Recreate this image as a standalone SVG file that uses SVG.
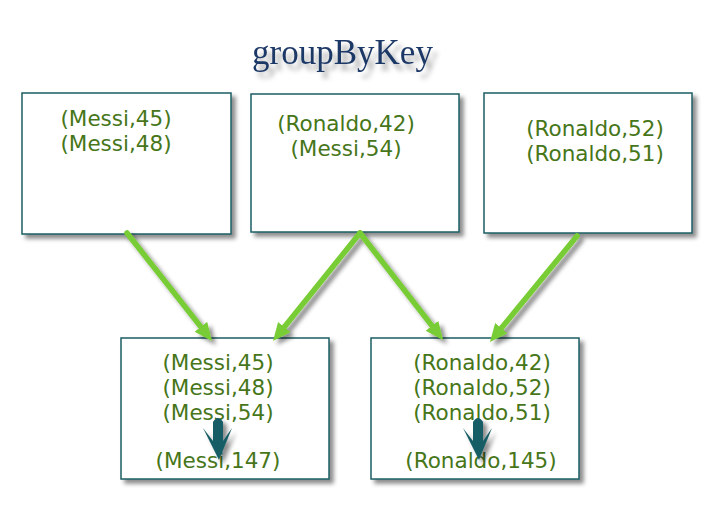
<svg xmlns="http://www.w3.org/2000/svg" width="726" height="528" viewBox="0 0 726 528">
  <defs>
    <filter id="sh" x="-20%" y="-20%" width="150%" height="150%">
      <feDropShadow dx="4" dy="4" stdDeviation="2.2" flood-color="#000" flood-opacity="0.45"/>
    </filter>
    <filter id="tsh" x="-20%" y="-30%" width="150%" height="180%">
      <feDropShadow dx="5" dy="6" stdDeviation="2.5" flood-color="#000" flood-opacity="0.35"/>
    </filter>
    <marker id="ah" markerUnits="userSpaceOnUse" markerWidth="20" markerHeight="18" refX="8" refY="8" orient="auto">
      <path d="M0,0 L18,8 L0,16 z" fill="#78cc34"/>
    </marker>
    <path id="down" d="M-5,5 Q0,-3 5,5 L5,24 L14,11 L1,43 L-15,11 L-5,24 Z"/>
  </defs>
  <style>
    .box { fill: #ffffff; stroke: #1b5e63; stroke-width: 1.5; filter: url(#sh); }
    .t { font-family: "DejaVu Sans", Verdana, sans-serif; font-size: 21.5px; fill: #467619; text-anchor: middle; }
    .ln { stroke: #78cc34; stroke-width: 5.5; stroke-linecap: round; fill: none; marker-end: url(#ah); }
    .da { fill: #175d66; filter: url(#sh); }
  </style>
  <rect width="726" height="528" fill="#ffffff"/>

  <text x="342.5" y="64" font-family="'Liberation Serif', 'Times New Roman', serif" font-size="35" fill="#1e3966" text-anchor="middle" filter="url(#tsh)">groupByKey</text>

  <g id="src1">
    <rect class="box" x="22" y="93" width="209" height="141"/>
    <text class="t" x="116" y="126">(Messi,45)</text>
    <text class="t" x="116" y="151">(Messi,48)</text>
  </g>
  <g id="src2">
    <rect class="box" x="251" y="94" width="208" height="138"/>
    <text class="t" x="346" y="131">(Ronaldo,42)</text>
    <text class="t" x="346" y="156">(Messi,54)</text>
  </g>
  <g id="src3">
    <rect class="box" x="484" y="93" width="208" height="140"/>
    <text class="t" x="595" y="136">(Ronaldo,52)</text>
    <text class="t" x="595" y="161">(Ronaldo,51)</text>
  </g>

  <g id="messi">
    <rect class="box" x="121" y="338" width="208" height="141"/>
    <text class="t" x="218" y="370">(Messi,45)</text>
    <text class="t" x="218" y="395">(Messi,48)</text>
    <text class="t" x="218" y="420">(Messi,54)</text>
    <text class="t" x="218" y="468">(Messi,147)</text>
    <use href="#down" class="da" x="218" y="417"/>
  </g>
  <g id="ronaldo">
    <rect class="box" x="371" y="338" width="208" height="141"/>
    <text class="t" x="482" y="370">(Ronaldo,42)</text>
    <text class="t" x="482" y="395">(Ronaldo,52)</text>
    <text class="t" x="482" y="420">(Ronaldo,51)</text>
    <text class="t" x="481" y="468">(Ronaldo,145)</text>
    <use href="#down" class="da" x="478" y="417"/>
  </g>

  <g id="connectors" filter="url(#sh)">
    <line class="ln" x1="127" y1="233" x2="205.8" y2="333.1"/>
    <line class="ln" x1="360" y1="233" x2="279.3" y2="333.2"/>
    <line class="ln" x1="360" y1="233" x2="436.9" y2="332.1"/>
    <line class="ln" x1="577" y1="236" x2="496.3" y2="334.3"/>
  </g>
</svg>
